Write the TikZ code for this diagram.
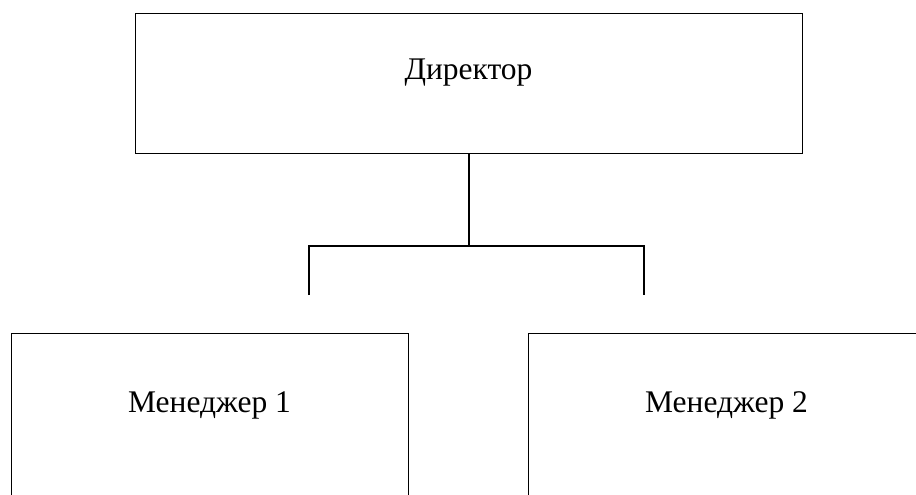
\documentclass[tikz,border=0pt]{standalone}
\usepackage{fontspec}
\setmainfont{Liberation Serif}
\usepackage{tikz}

\begin{document}
\begin{tikzpicture}[
  x=1pt, y=-1pt,
  every node/.style={draw, rectangle, inner sep=0pt, line width=0.9pt,
  font=\fontsize{31.5}{37}\selectfont},
  post/.style={text height=67pt, text depth=73pt, minimum width=667pt},
  staff/.style={text height=79pt, text depth=101pt, minimum width=397pt},
  conn/.style={draw, line width=1.5pt}
]
\useasboundingbox (0,0) rectangle (916,495);
\clip (0,0) rectangle (916,495);

\node[post] (director) at (468.5,83) {Директор};
\node[staff] (manager1) at (209.5,423) {Менеджер 1};
\node[staff] (manager2) at (726.5,423) {Менеджер 2};

\coordinate (fork) at (469,246);
\coordinate (forkL) at (309,246);
\coordinate (forkR) at (644,246);
\coordinate (endL) at (309,295);
\coordinate (endR) at (644,295);

\path[conn] (fork |- director.south) -- (fork);
\path[conn] (endL) -- (forkL) -- (forkR) -- (endR);

\end{tikzpicture}
\end{document}
